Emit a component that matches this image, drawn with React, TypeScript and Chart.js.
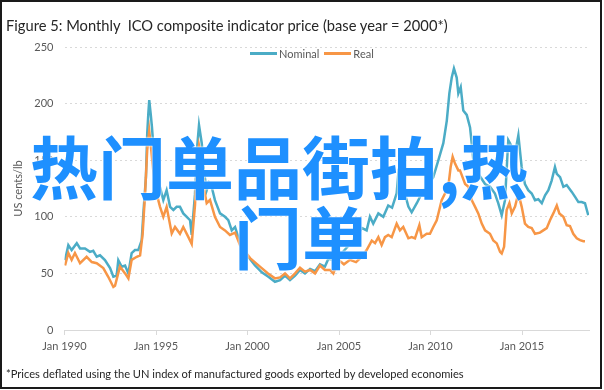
import React, { useEffect, useRef } from "react";
import { Chart, registerables } from "chart.js";

Chart.register(...registerables);

const titleText = "Figure 5: Monthly  ICO composite indicator price (base year = 2000*)";
const footnoteText = "*Prices deflated using the UN index of manufactured goods exported by developed economies";
const yAxisTitle = "US cents/lb";
const overlayLine1 = "热门单品街拍,热";
const overlayLine2 = "门单";

const seriesNames = ["Nominal", "Real"];
const seriesColors = ["#4bacc6", "#f79646"];

const xTickYears = [1990, 1995, 2000, 2005, 2010, 2015];
const yTickValues = [0, 50, 100, 150, 200, 250];

const nominalYears = [
  1990.03, 1990.21, 1990.39, 1990.67, 1990.85, 1991.12, 1991.39, 1991.57, 1991.76, 1991.94,
  1992.21, 1992.49, 1992.67, 1992.85, 1992.94, 1993.13, 1993.31, 1993.49, 1993.67, 1993.85,
  1994.03, 1994.22, 1994.31, 1994.45, 1994.52, 1994.58, 1994.63, 1994.71, 1994.78, 1994.91,
  1995.07, 1995.22, 1995.4, 1995.58, 1995.77, 1995.95, 1996.13, 1996.31, 1996.49, 1996.68,
  1996.86, 1996.95, 1997.13, 1997.24, 1997.35, 1997.5, 1997.62, 1997.77, 1997.9, 1998.04,
  1998.22, 1998.5, 1998.77, 1998.95, 1999.14, 1999.32, 1999.5, 1999.68, 2000.04, 2000.41,
  2000.78, 2001.14, 2001.5, 2001.78, 2002.05, 2002.32, 2002.6, 2002.87, 2003.14, 2003.42,
  2003.69, 2003.96, 2004.23, 2004.42, 2004.67, 2005.05, 2005.38, 2005.71, 2006.04, 2006.26,
  2006.51, 2006.69, 2006.87, 2007.15, 2007.42, 2007.69, 2007.9, 2008.15, 2008.24, 2008.51,
  2008.79, 2008.97, 2009.25, 2009.52, 2009.86, 2010.15, 2010.43, 2010.7, 2010.89, 2011.03,
  2011.16, 2011.28, 2011.43, 2011.52, 2011.65, 2011.79, 2011.98, 2012.16, 2012.25, 2012.34,
  2012.61, 2012.98, 2013.25, 2013.52, 2013.7, 2013.89, 2014.07, 2014.25, 2014.44, 2014.62,
  2014.8, 2014.98, 2015.16, 2015.34, 2015.53, 2015.71, 2015.89, 2016.08, 2016.26, 2016.44,
  2016.62, 2016.8, 2016.9, 2017.08, 2017.26, 2017.44, 2017.72, 2017.9, 2018.08, 2018.26,
  2018.44, 2018.62,
];
const nominalValues = [
  61.7, 75, 70.6, 76.7, 72, 72, 69, 70, 64.7, 66,
  61.7, 54.7, 47, 48, 61.7, 55.9, 57, 50, 68, 70.6,
  70.6, 79.4, 103, 135, 173.6, 191, 203, 191, 179, 150,
  132, 126, 114.7, 123.5, 108.8, 106, 108.8, 108.8, 103, 100,
  97, 84, 120, 160, 181, 165, 140, 123.5, 130, 126.5,
  114.7, 103, 100, 97, 88, 91, 82, 73.5, 64.7, 57,
  51, 47, 42.6, 44, 48, 44, 48, 53, 50, 54,
  52, 58, 56, 63, 62, 66, 72, 78, 85, 90,
  88, 100, 94, 103, 100, 110, 108, 120.6, 138, 126,
  109, 104, 112, 120.6, 128, 135, 150, 165, 185, 209,
  223, 231, 223, 209, 214.6, 194, 190, 179, 165, 150,
  138, 129, 126.5, 120.6, 112, 101.4, 114.7, 167.6, 162, 156,
  172, 144, 129, 123.5, 120.6, 114.7, 115.5, 112, 119, 123.5,
  132, 144, 138, 135, 126.5, 128, 122, 117.6, 113, 113,
  112, 101.4,
];

const realYears = [
  1990.03, 1990.21, 1990.39, 1990.57, 1990.85, 1991.21, 1991.49, 1991.76, 1992.12, 1992.39,
  1992.67, 1992.76, 1993.03, 1993.31, 1993.49, 1993.67, 1993.95, 1994.13, 1994.27, 1994.4,
  1994.52, 1994.63, 1994.74, 1994.85, 1995.04, 1995.22, 1995.4, 1995.58, 1995.86, 1996.04,
  1996.31, 1996.49, 1996.77, 1996.95, 1997.13, 1997.24, 1997.35, 1997.5, 1997.62, 1997.77,
  1997.95, 1998.22, 1998.5, 1998.77, 1999.04, 1999.32, 1999.59, 2000.14, 2000.68, 2001.12,
  2001.5, 2001.78, 2002.05, 2002.32, 2002.6, 2002.87, 2003.14, 2003.42, 2003.69, 2003.96,
  2004.23, 2004.51, 2004.69, 2004.96, 2005.27, 2005.6, 2005.93, 2006.26, 2006.51, 2006.79,
  2006.97, 2007.15, 2007.33, 2007.51, 2007.69, 2007.88, 2008.15, 2008.33, 2008.51, 2008.79,
  2008.97, 2009.15, 2009.39, 2009.52, 2009.79, 2009.97, 2010.15, 2010.34, 2010.61, 2010.79,
  2010.97, 2011.1, 2011.21, 2011.34, 2011.52, 2011.61, 2011.89, 2012.07, 2012.25, 2012.43,
  2012.61, 2012.8, 2012.98, 2013.25, 2013.43, 2013.62, 2013.8, 2013.89, 2014.02, 2014.16,
  2014.31, 2014.44, 2014.62, 2014.8, 2014.98, 2015.16, 2015.34, 2015.53, 2015.71, 2015.98,
  2016.16, 2016.35, 2016.53, 2016.71, 2016.9, 2017.04, 2017.26, 2017.44, 2017.62, 2017.8,
  2017.99, 2018.17, 2018.35, 2018.44,
];
const realValues = [
  57, 68, 62, 68, 59, 64.7, 60, 59, 54.7, 47,
  38, 39, 56, 50, 45.6, 62, 64.7, 66, 85, 120,
  159, 176, 159, 141, 120, 108.8, 100, 108.8, 85.3, 91,
  85, 91, 82, 76, 110, 145, 163, 150, 125, 112,
  115, 100, 91, 88, 84, 86, 75, 63.5, 56, 50,
  45.6, 46.5, 50, 45.6, 50, 55, 51.5, 53, 50, 57,
  53, 53, 50, 62, 58, 62, 60, 65, 70.6, 79,
  76.7, 82, 75, 82, 84, 82, 94, 88, 91, 81,
  82, 81, 92.6, 82, 85, 85, 91, 97, 114.7, 120.6,
  126.5, 144, 153, 147, 141, 141, 129, 126.5, 114.7, 109,
  103, 94, 88, 85, 79, 76.5, 69, 67.6, 73.5, 106,
  112, 103, 109, 120.6, 109, 94, 91, 90, 85, 86,
  88, 90, 97, 103, 110, 103, 100, 92.6, 91.8, 85,
  81, 79.4, 78.5, 78.5,
];

const FONT = "Lato, 'Liberation Sans', Arial, sans-serif";

export default function App() {
  const canvasRef = useRef<HTMLCanvasElement | null>(null);

  useEffect(() => {
    const canvas = canvasRef.current;
    if (!canvas) return;
    Chart.defaults.font.family = FONT;
    const chart = new Chart(canvas, {
      type: "line",
      data: {
        datasets: [
          {
            label: seriesNames[0],
            data: nominalYears.map((x, i) => ({ x, y: nominalValues[i] })),
            borderColor: seriesColors[0],
            backgroundColor: seriesColors[0],
            borderWidth: 2.5,
            pointRadius: 0,
            tension: 0,
            order: 1,
          },
          {
            label: seriesNames[1],
            data: realYears.map((x, i) => ({ x, y: realValues[i] })),
            borderColor: seriesColors[1],
            backgroundColor: seriesColors[1],
            borderWidth: 2.5,
            pointRadius: 0,
            tension: 0,
            order: 0,
          },
        ],
      },
      options: {
        animation: false,
        responsive: false,
        maintainAspectRatio: false,
        layout: { padding: { left: 8, top: 47, right: 15, bottom: 30 } },
        plugins: {
          legend: { display: false },
          tooltip: { enabled: false },
          title: { display: false },
        },
        scales: {
          x: {
            type: "linear",
            min: 1990,
            max: 2018.66,
            afterBuildTicks: (s: any) => {
              s.ticks = xTickYears.map((v) => ({ value: v }));
            },
            afterFit: (s: any) => {
              s.height = 30;
            },
            ticks: {
              callback: (v: any) => "Jan " + v,
              font: { size: 11 },
              color: "#595959",
              padding: 5,
              maxRotation: 0,
              autoSkip: false,
            },
            grid: { drawOnChartArea: false, drawTicks: true, tickLength: 5, color: "#d9d9d9" },
            border: { display: true, color: "#d9d9d9", width: 1 },
          },
          y: {
            min: 0,
            max: 250,
            afterBuildTicks: (s: any) => {
              s.ticks = yTickValues.map((v) => ({ value: v }));
            },
            afterFit: (s: any) => {
              s.width = 56.5;
            },
            ticks: { font: { size: 11 }, color: "#595959", padding: 11 },
            grid: { color: "#d9d9d9", lineWidth: 1, drawTicks: false },
            border: { display: false, dash: [2, 3] },
            title: {
              display: true,
              text: yAxisTitle,
              font: { size: 11 },
              color: "#595959",
              padding: { top: 4, bottom: 0 },
            },
          },
        },
      },
    });
    return () => chart.destroy();
  }, []);

  const legendItems = seriesNames.map((name, i) => ({ name, color: seriesColors[i] }));

  const overlayStyle: React.CSSProperties = {
    position: "absolute",
    fontFamily: "'Noto Sans CJK SC', sans-serif",
    fontWeight: 700,
    fontSize: 68,
    lineHeight: "71px",
    color: "#1e90ff",
    whiteSpace: "pre",
    textShadow: "0 0 2px #fff, 0 0 2px #fff",
  };

  return (
    <div
      style={{
        position: "absolute",
        left: 0,
        top: 0,
        width: 604,
        height: 390,
        overflow: "hidden",
        background: "#fff",
        fontFamily: FONT,
      }}
    >
      <canvas ref={canvasRef} width={604} height={390} style={{ position: "absolute", left: 0, top: 0 }} />
      <div
        style={{
          position: "absolute",
          left: 0,
          top: 0,
          width: 602,
          height: 389,
          boxSizing: "border-box",
          border: "2px solid #1a1a1a",
          pointerEvents: "none",
        }}
      />
      <div
        style={{
          position: "absolute",
          left: 6,
          top: 15,
          fontSize: 14.7,
          color: "#262626",
          whiteSpace: "pre",
          lineHeight: "20px",
        }}
      >
        {titleText}
      </div>
      <div
        style={{
          position: "absolute",
          left: 250,
          top: 46,
          height: 15,
          display: "flex",
          alignItems: "center",
          fontSize: 11,
          color: "#595959",
          whiteSpace: "nowrap",
        }}
      >
        {legendItems.map((it, i) => (
          <div key={i} style={{ display: "flex", alignItems: "center", marginRight: i === 0 ? 5 : 0 }}>
            <span style={{ display: "inline-block", width: 27, height: 3, background: it.color, marginRight: 2 }} />
            <span>{it.name}</span>
          </div>
        ))}
      </div>
      <div
        style={{
          position: "absolute",
          left: 6,
          top: 367,
          fontSize: 11.1,
          color: "#262626",
          whiteSpace: "pre",
          lineHeight: "14px",
        }}
      >
        {footnoteText}
      </div>
      <div style={{ ...overlayStyle, left: 30, top: 129 }}>{overlayLine1}</div>
      <div style={{ ...overlayStyle, left: 234, top: 199 }}>{overlayLine2}</div>
    </div>
  );
}
